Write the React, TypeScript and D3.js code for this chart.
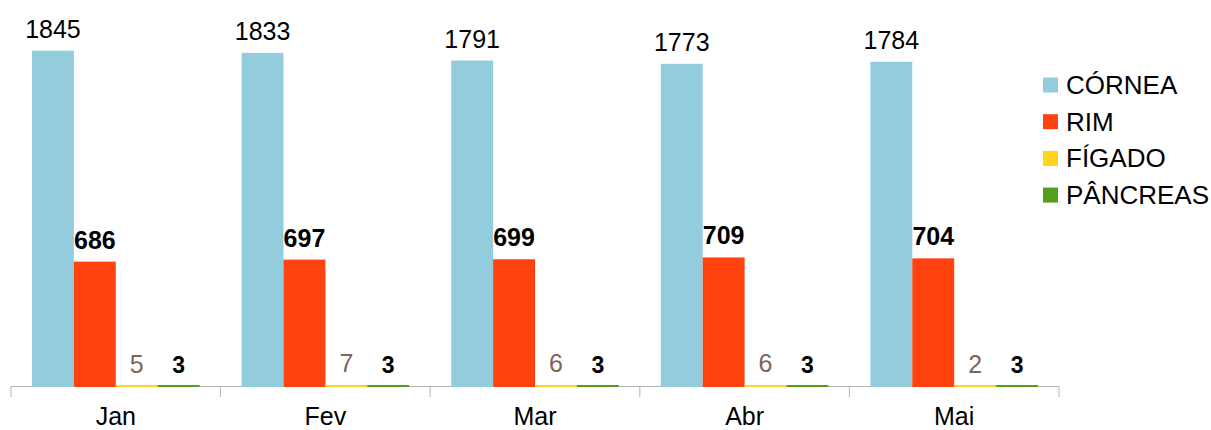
import React from "react";
import { scaleBand, scaleLinear } from "d3";

const months = ["Jan", "Fev", "Mar", "Abr", "Mai"];
const cornea = [1845, 1833, 1791, 1773, 1784];
const rim = [686, 697, 699, 709, 704];
const figado = [5, 7, 6, 6, 2];
const pancreas = [3, 3, 3, 3, 3];

const seriesNames = ["CÓRNEA", "RIM", "FÍGADO", "PÂNCREAS"];
const seriesColors = ["#93cddd", "#ff420e", "#ffd320", "#579d1c"];
// label style per series: [colour, weight, size]
const labelStyles: [string, string, number][] = [
    ["#000000", "normal", 25],
    ["#000000", "bold", 25],
    ["#7f6458", "normal", 25],
    ["#000000", "bold", 23],
];

const W = 1211;
const H = 430;
const FONT = "'Liberation Sans', Arial, sans-serif";

export default function App() {
    const allSeries = [cornea, rim, figado, pancreas];

    const x = scaleBand<string>().domain(months).range([11, 1059]).paddingInner(0).paddingOuter(0);
    const inner = scaleBand<number>()
        .domain([0, 1, 2, 3])
        .range([21, x.bandwidth() - 21])
        .padding(0);
    const y = scaleLinear().domain([0, 2000]).range([386.5, 22.5]);

    return (
        <svg
            width={W}
            height={H}
            style={{ position: "absolute", left: 0, top: 0, background: "#fff" }}
            fontFamily={FONT}
        >
            {/* x axis */}
            <line x1={11} x2={1059} y1={386.5} y2={386.5} stroke="#b3b3b3" strokeWidth={1} />
            {[...months.map((m) => x(m) as number), 1059].map((tx, i) => (
                <line key={i} x1={tx} x2={tx} y1={386.5} y2={397} stroke="#b3b3b3" strokeWidth={1} />
            ))}
            {months.map((m, i) => (
                <g key={m} transform={`translate(${x(m)},0)`}>
                    {allSeries.map((s, k) => {
                        const v = s[i];
                        const bx = inner(k) as number;
                        const top = Math.min(y(v), 385);
                        const [col, weight, size] = labelStyles[k];
                        return (
                            <g key={k}>
                                <rect
                                    x={bx}
                                    y={top}
                                    width={inner.bandwidth()}
                                    height={387 - top}
                                    fill={seriesColors[k]}
                                />
                                <text
                                    x={bx + inner.bandwidth() / 2}
                                    y={y(v) - 13}
                                    textAnchor="middle"
                                    fill={col}
                                    fontWeight={weight}
                                    fontSize={size}
                                >
                                    {v}
                                </text>
                            </g>
                        );
                    })}
                    <text
                        x={x.bandwidth() / 2}
                        y={425}
                        textAnchor="middle"
                        fontSize={25}
                        fill="#000"
                    >
                        {m}
                    </text>
                </g>
            ))}
            {/* legend */}
            {seriesNames.map((n, k) => {
                const cy = 85 + k * 36.7;
                return (
                    <g key={n}>
                        <rect x={1043} y={cy - 7.5} width={15} height={15} fill={seriesColors[k]} />
                        <text x={1066} y={cy + 9} fontSize={26} fill="#000">
                            {n}
                        </text>
                    </g>
                );
            })}
        </svg>
    );
}
